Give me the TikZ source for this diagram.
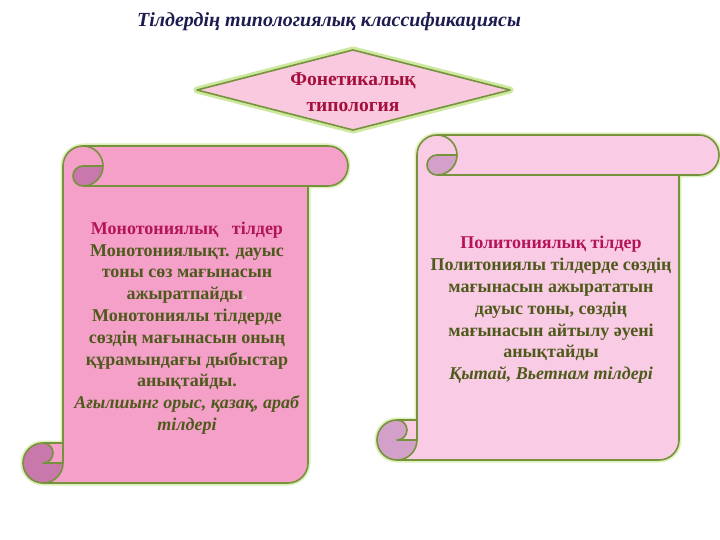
\documentclass[tikz,border=0pt]{standalone}
\usepackage{fontspec}
\setmainfont{Liberation Serif}
\definecolor{olive}{HTML}{76923C}
\definecolor{glowc}{HTML}{DDF0BC}
\definecolor{glowd}{HTML}{CDE99F}
\definecolor{lbody}{HTML}{F5A0C8}
\definecolor{ldark}{HTML}{C878AA}
\definecolor{rbody}{HTML}{FACBE4}
\definecolor{rdark}{HTML}{D2A0C8}
\definecolor{dfill}{HTML}{F9C9DF}
\definecolor{crim}{HTML}{A50F3C}
\definecolor{magc}{HTML}{B4145A}
\definecolor{txtc}{HTML}{4E5A1C}
\definecolor{navy}{HTML}{1C1C50}
\newcommand\scrollpath[4]{({#1+20},{#4}) arc[start angle=90,end angle=270,radius=20] -- ({#1+40},{#4-40}) -- ({#1+40},{#2+20}) arc[start angle=180,end angle=270,radius=20] -- ({#3-20},{#2}) arc[start angle=-90,end angle=90,radius=20] -- ({#3-40},{#2+40}) -- ({#3-40},{#4-20}) arc[start angle=0,end angle=90,radius=20] -- cycle}
\newcommand\drawscroll[6]{%
  \draw[glowc, line width=5pt, line join=round] \scrollpath{#1}{#2}{#3}{#4};
  \fill[#5] \scrollpath{#1}{#2}{#3}{#4};
  \fill[#6] ({#1+60},{#2+20}) -- ({#1+80},{#2+20}) arc[start angle=0,end angle=90,radius=20] arc[start angle=90,end angle=270,radius=10] -- cycle;
  \fill[#6] ({#1+20},{#4-40}) arc[start angle=270,end angle=0,radius=20] -- ({#1+20},{#4-20}) arc[start angle=90,end angle=-90,radius=10] -- cycle;
  \begin{scope}[olive, line width=1.6pt, line join=round]
  \draw \scrollpath{#1}{#2}{#3}{#4};
  \draw ({#1+60},{#2}) arc[start angle=-90,end angle=90,radius=20];
  \draw ({#1+80},{#2+20}) -- ({#1+60},{#2+20}) arc[start angle=270,end angle=90,radius=10];
  \draw ({#1+60},{#2+40}) -- ({#3-40},{#2+40});
  \draw ({#1+40},{#4-20}) arc[start angle=0,end angle=90,radius=20];
  \draw ({#1+40},{#4-20}) -- ({#1+20},{#4-20}) arc[start angle=90,end angle=-90,radius=10];
  \draw ({#1+40},{#4-40}) -- ({#1+40},{#4-20});
  \end{scope}}
\tikzset{
  bodytext/.style={align=center, text=txtc, font=\bfseries\fontsize{18}{21.8}\selectfont},
}
\begin{document}
\begin{tikzpicture}[x=1pt,y=-1pt]
\useasboundingbox (0,0) rectangle (720,540);
\fill[white] (0,0) rectangle (720,540);
% title
\node[text=navy, font=\bfseries\itshape\fontsize{20}{24}\selectfont] (title) at (329,22) {Тілдердің типологиялық классификациясы};
% diamond
\draw[glowd, line width=7pt, line join=round] (197,90) -- (353,50) -- (510,90) -- (353,130) -- cycle;
\draw[olive, fill=dfill, line width=1.6pt, line join=round] (197,90) -- (353,50) -- (510,90) -- (353,130) -- cycle;
\node[align=center, text=crim, font=\bfseries\fontsize{19.5}{26}\selectfont] (phon) at (353,92) {Фонетикалық\\типология};
% scrolls
\drawscroll{23}{146}{348}{483}{lbody}{ldark}
\drawscroll{377}{135}{719}{460}{rbody}{rdark}
% texts
\node[bodytext] (mono) at (187,328) {\textcolor{magc}{Монотониялық\ \ \ тілдер}\\Монотониялықт. дауыс\\тоны сөз мағынасын\\ажыратпайды\textcolor{lbody!60!white}{.}\\Монотониялы тілдерде\\сөздің мағынасын оның\\құрамындағы дыбыстар\\анықтайды.\\\textit{Ағылшынг орыс, қазақ, араб}\\\textit{тілдері}};
\node[bodytext] (poly) at (551,310) {\textcolor{magc}{Политониялық тілдер}\\Политониялы тілдерде сөздің\\мағынасын ажырататын\\дауыс тоны, сөздің\\мағынасын айтылу әуені\\анықтайды\\\textit{Қытай, Вьетнам тілдері}};
\end{tikzpicture}
\end{document}
